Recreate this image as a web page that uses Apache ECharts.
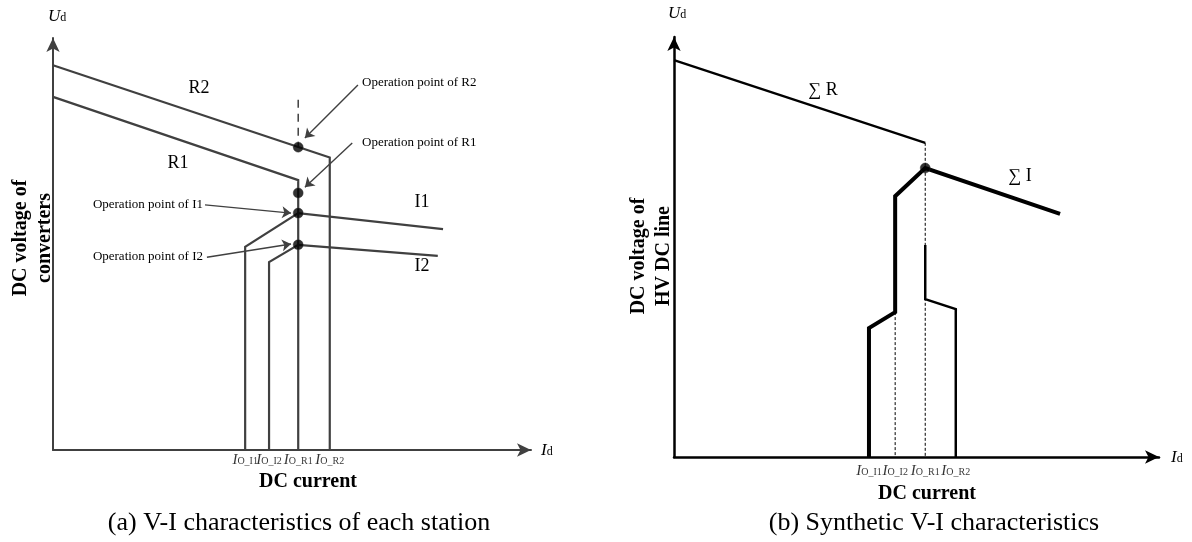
<!DOCTYPE html>
<html>
<head>
<meta charset="utf-8">
<script src="https://cdn.jsdelivr.net/npm/echarts@6/dist/echarts.min.js"></script>
<style>
html,body{margin:0;padding:0;background:#fff;}
#main{width:1192px;height:542px;}
</style>
</head>
<body>
<div id="main"></div>
<script>
// ---------- DATA (schematic units: current 0..100, voltage 0..100) ----------
const tickNames = ['I1', 'I2', 'R1', 'R2'];

// (a) characteristics of each station
const leftTicks = [40.2, 45.2, 51.3, 57.9];
const leftR2 = [[0, 93.4], [57.9, 71.0], [57.9, 0]];
const leftR1 = [[0, 85.7], [51.3, 65.5], [51.3, 0]];
const leftI1 = [[81.6, 53.6], [51.3, 57.5], [40.2, 49.3], [40.2, 0]];
const leftI2 = [[80.5, 47.1], [51.3, 49.8], [45.2, 45.6], [45.2, 0]];
const leftGuide = [[51.3, 85.0], [51.3, 73.5]];
const leftOpPoints = [[51.3, 73.5], [51.3, 62.4], [51.3, 57.5], [51.3, 49.8]];
const leftArrowStart = [[63.8, 88.6], [62.6, 74.5], [31.8, 59.5], [32.2, 46.8]];
const leftArrowEnd = [[52.7, 75.7], [52.7, 63.8], [49.8, 57.5], [49.8, 50.0]];

// (b) synthetic characteristics
const rightTicks = [40.2, 45.6, 51.8, 58.1];
const sumR = [[0, 94.5], [51.8, 74.8]];
const sumI = [[79.6, 57.9], [51.8, 68.8], [45.6, 62.1], [45.6, 34.5], [40.2, 30.7], [40.2, 0]];
const rightRect = [[51.8, 50.5], [51.8, 37.6], [58.1, 35.2], [58.1, 0]];
const rightGuideA = [[45.6, 34.5], [45.6, 0]];
const rightGuideB = [[51.8, 74.8], [51.8, 0]];
const rightOpPoints = [[51.8, 68.8]];

// ---------- STYLE ----------
const SERIF = '"Liberation Serif","Times New Roman",serif';
const GRAY = '#404040';
const BLACK = '#000000';

const tickRich = {
  i: { fontFamily: SERIF, fontStyle: 'italic', fontSize: 15, color: BLACK, padding: [0, 0, 2, 0] },
  s: { fontFamily: SERIF, fontSize: 10, color: BLACK }
};

function axisDef(gridIndex, color, width) {
  return {
    type: 'value', gridIndex, min: 0, max: 100,
    splitLine: { show: false }, axisTick: { show: false }, axisLabel: { show: false },
    axisLine: { show: true, symbol: ['none', 'arrow'], symbolSize: [10, 14], lineStyle: { color, width } }
  };
}
function tickLabelSeries(idx, ticks, distance) {
  return {
    type: 'scatter', xAxisIndex: idx, yAxisIndex: idx, silent: true,
    data: ticks.map(t => [t, 0]), symbolSize: 0, z: 6,
    itemStyle: { color: 'transparent' },
    label: {
      show: true, position: 'bottom', distance,
      formatter: p => '{i|I}{s|O_' + tickNames[p.dataIndex] + '}', rich: tickRich
    },
    labelLayout: { hideOverlap: false }
  };
}
function lineSeries(idx, data, color, width, type) {
  return {
    type: 'line', xAxisIndex: idx, yAxisIndex: idx, data, symbol: 'none', silent: true,
    lineStyle: { color, width, type: type || 'solid', cap: 'butt', join: 'miter' }, z: 3
  };
}
function pointSeries(idx, data) {
  return {
    type: 'scatter', xAxisIndex: idx, yAxisIndex: idx, data, symbol: 'circle', symbolSize: 10,
    itemStyle: { color: BLACK, borderColor: '#333', borderWidth: 0.5 }, z: 5, silent: true
  };
}
function txt(x, y, text, opts) {
  return {
    type: 'text', x, y, rotation: (opts && opts.rotation) || 0, z: 10,
    style: Object.assign({
      text, fill: BLACK, fontFamily: SERIF, fontSize: 18, align: 'center', verticalAlign: 'middle'
    }, opts && opts.style)
  };
}
const subRich = {
  i: { fontFamily: SERIF, fontStyle: 'italic', fontSize: 17, fill: BLACK, padding: [0, 0, 3, 0] },
  s: { fontFamily: SERIF, fontSize: 12, fill: BLACK }
};

const chart = echarts.init(document.getElementById('main'), null, { renderer: 'canvas' });
chart.setOption({
  animation: false,
  backgroundColor: '#ffffff',
  grid: [
    { left: 53, top: 38, width: 478, height: 412 },
    { left: 674, top: 37, width: 485, height: 420 }
  ],
  xAxis: [axisDef(0, GRAY, 2), axisDef(1, BLACK, 2.5)],
  yAxis: [axisDef(0, GRAY, 2), axisDef(1, BLACK, 2.5)],
  series: [
    lineSeries(0, leftR2, GRAY, 2.2),
    lineSeries(0, leftR1, GRAY, 2.2),
    lineSeries(0, leftI1, GRAY, 2.2),
    lineSeries(0, leftI2, GRAY, 2.2),
    Object.assign(lineSeries(0, leftGuide, GRAY, 1.5, [8, 6]), {
      markLine: {
        silent: true, symbol: ['none', 'arrow'], symbolSize: 9, animation: false,
        lineStyle: { color: GRAY, width: 1.4, type: 'solid' }, label: { show: false },
        data: leftArrowStart.map((s, i) => [{ coord: s }, { coord: leftArrowEnd[i] }])
      }
    }),
    pointSeries(0, leftOpPoints),
    tickLabelSeries(0, leftTicks, 3),
    lineSeries(1, rightGuideA, BLACK, 1, [3, 2]),
    lineSeries(1, rightGuideB, BLACK, 1, [3, 2]),
    lineSeries(1, sumR, BLACK, 2.2),
    lineSeries(1, rightRect, BLACK, 2.5),
    lineSeries(1, sumI, BLACK, 4),
    pointSeries(1, rightOpPoints),
    tickLabelSeries(1, rightTicks, 7)
  ],
  graphic: [
    // panel (a)
    txt(48, 18, '{i|U}{s|d}', { style: { align: 'left', rich: subRich } }),
    txt(541, 452, '{i|I}{s|d}', { style: { align: 'left', rich: subRich } }),
    txt(33, 238, 'DC voltage of\nconverters', { rotation: Math.PI / 2, style: { fontWeight: 'bold', fontSize: 20, lineHeight: 24 } }),
    txt(308, 482, 'DC current', { style: { fontWeight: 'bold', fontSize: 20 } }),
    txt(199, 88, 'R2'), txt(178, 163, 'R1'), txt(422, 202, 'I1'), txt(422, 266, 'I2'),
    txt(362, 83, 'Operation point of R2', { style: { align: 'left', fontSize: 13 } }),
    txt(362, 143, 'Operation point of R1', { style: { align: 'left', fontSize: 13 } }),
    txt(203, 205, 'Operation point of I1', { style: { align: 'right', fontSize: 13 } }),
    txt(203, 257, 'Operation point of I2', { style: { align: 'right', fontSize: 13 } }),
    txt(299, 523, '(a) V-I characteristics of each station', { style: { fontSize: 26 } }),
    // panel (b)
    txt(668, 15, '{i|U}{s|d}', { style: { align: 'left', rich: subRich } }),
    txt(1171, 459, '{i|I}{s|d}', { style: { align: 'left', rich: subRich } }),
    txt(651, 256, 'DC voltage of\nHV DC line', { rotation: Math.PI / 2, style: { fontWeight: 'bold', fontSize: 20, lineHeight: 25 } }),
    txt(927, 494, 'DC current', { style: { fontWeight: 'bold', fontSize: 20 } }),
    txt(823, 90, '\u2211 R'), txt(1020, 176, '\u2211 I'),
    txt(934, 523, '(b) Synthetic V-I characteristics', { style: { fontSize: 26 } })
  ]
});
</script>
</body>
</html>
